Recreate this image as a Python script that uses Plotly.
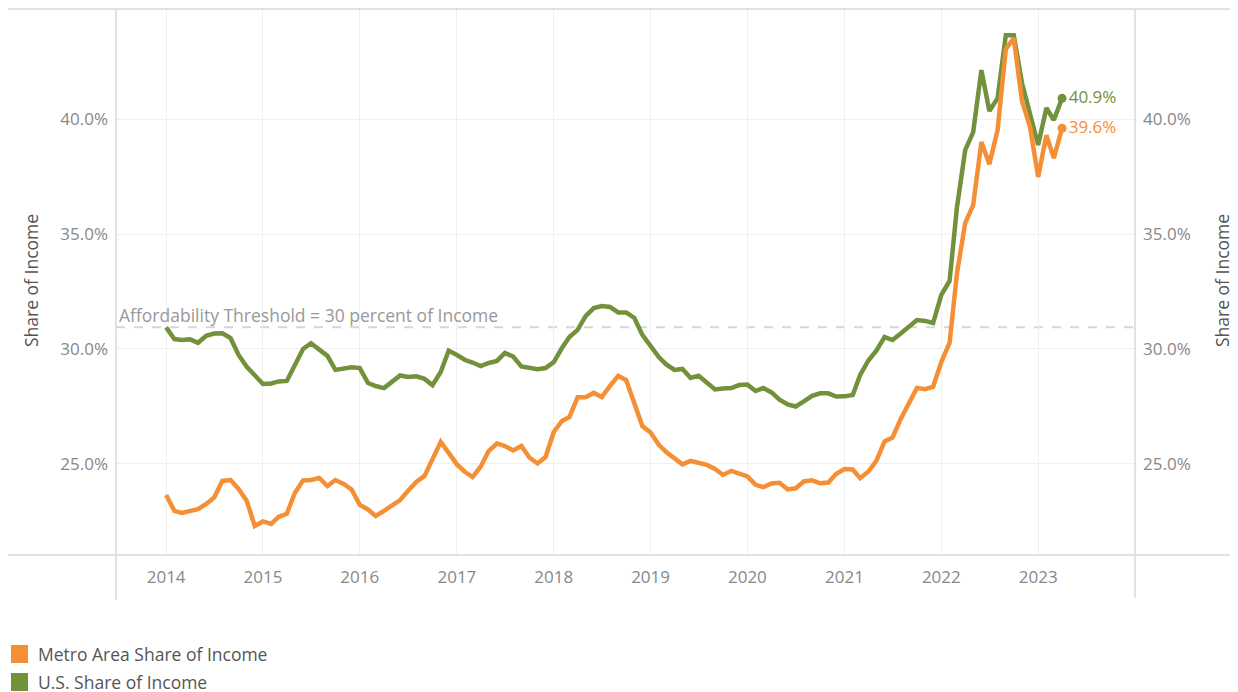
import plotly.graph_objects as go
import pandas as pd

# Monthly data, Jan 2014 - Apr 2023
dates = pd.date_range("2014-01-01", periods=112, freq="MS")

us_share = [
    30.94, 30.43, 30.39, 30.42, 30.27, 30.57, 30.67, 30.68, 30.47, 29.74, 29.22, 28.83,
    28.48, 28.50, 28.59, 28.61, 29.30, 30.00, 30.25, 30.00, 29.70, 29.09, 29.16, 29.20,
    29.17, 28.52, 28.39, 28.30, 28.57, 28.85, 28.78, 28.81, 28.70, 28.43, 29.00, 29.93,
    29.74, 29.52, 29.41, 29.26, 29.39, 29.48, 29.83, 29.67, 29.24, 29.16, 29.12, 29.17,
    29.43, 30.04, 30.52, 30.83, 31.43, 31.78, 31.87, 31.83, 31.59, 31.59, 31.35, 30.61,
    30.09, 29.65, 29.33, 29.09, 29.13, 28.74, 28.84, 28.52, 28.24, 28.28, 28.30, 28.43,
    28.45, 28.17, 28.30, 28.11, 27.80, 27.59, 27.50, 27.72, 27.96, 28.07, 28.07, 27.93,
    27.94, 28.00, 28.87, 29.50, 29.93, 30.52, 30.39, 30.67, 30.98, 31.26, 31.22, 31.13,
    32.35, 32.96, 36.17, 38.65, 39.43, 42.13, 40.35, 40.91, 43.65, 43.65, 41.57, 40.30,
    38.87, 40.48, 39.96, 40.90,
]

metro_share = [
    23.65, 22.96, 22.87, 22.97, 23.03, 23.26, 23.54, 24.26, 24.30, 23.91, 23.39, 22.30,
    22.50, 22.39, 22.70, 22.83, 23.74, 24.28, 24.30, 24.39, 24.04, 24.30, 24.13, 23.89,
    23.22, 23.02, 22.74, 22.96, 23.20, 23.43, 23.83, 24.22, 24.48, 25.17, 25.96, 25.48,
    24.98, 24.65, 24.43, 24.89, 25.57, 25.89, 25.78, 25.59, 25.78, 25.28, 25.02, 25.30,
    26.39, 26.87, 27.04, 27.90, 27.90, 28.09, 27.91, 28.39, 28.83, 28.65, 27.65, 26.65,
    26.37, 25.83, 25.52, 25.26, 24.98, 25.13, 25.04, 24.96, 24.78, 24.52, 24.70, 24.57,
    24.46, 24.09, 23.99, 24.15, 24.18, 23.89, 23.94, 24.24, 24.29, 24.16, 24.19, 24.57,
    24.78, 24.76, 24.38, 24.67, 25.13, 25.98, 26.15, 26.96, 27.61, 28.30, 28.25, 28.36,
    29.43, 30.26, 33.30, 35.48, 36.26, 39.00, 38.04, 39.52, 43.04, 43.52, 40.78, 39.67,
    37.48, 39.30, 38.30, 39.60,
]

threshold = 30.95
year_ticks = [f"{y}-01-01" for y in range(2014, 2024)]
year_labels = [str(y) for y in range(2014, 2024)]
y_ticks = [25, 30, 35, 40]
y_labels = ["25.0%", "30.0%", "35.0%", "40.0%"]

ORANGE = "#F58F35"
GREEN = "#72913B"
GRID = "#F0F0F0"
AXIS = "#D9D9D9"
TICK = "#888888"
TEXT = "#555555"
FONT = "Open Sans"

# page has an 8px body margin: figure pixel = page pixel - 8
W, H = 1230, 684
PL, PR, PT, PB = 108, 1127, 0, 547  # plot area in figure pixels

fig = go.Figure()

fig.add_trace(go.Scatter(x=dates, y=us_share, mode="lines", name="U.S. Share of Income",
                         line=dict(color=GREEN, width=4.5), hoverinfo="skip"))
fig.add_trace(go.Scatter(x=dates, y=metro_share, mode="lines", name="Metro Area Share of Income",
                         line=dict(color=ORANGE, width=4.5), hoverinfo="skip"))
fig.add_trace(go.Scatter(x=[dates[-1]], y=[us_share[-1]], mode="markers+text",
                         marker=dict(color=GREEN, size=9),
                         text=[f"{us_share[-1]:.1f}%"], textposition="middle right",
                         textfont=dict(color=GREEN, size=17, family=FONT), hoverinfo="skip"))
fig.add_trace(go.Scatter(x=[dates[-1]], y=[metro_share[-1]], mode="markers+text",
                         marker=dict(color=ORANGE, size=9),
                         text=[f"{metro_share[-1]:.1f}%"], textposition="middle right",
                         textfont=dict(color=ORANGE, size=17, family=FONT), hoverinfo="skip"))
fig.add_trace(go.Scatter(x=dates, y=us_share, yaxis="y2", mode="lines",
                         line=dict(color="rgba(0,0,0,0)", width=0), hoverinfo="skip"))

yr = [21.04, 44.83]
fig.update_layout(
    width=W, height=H,
    margin=dict(l=PL, r=W - PR, t=PT, b=H - PB),
    paper_bgcolor="white", plot_bgcolor="white",
    showlegend=False,
    font=dict(family=FONT, color=TICK, size=17),
    xaxis=dict(
        type="date", range=["2013-06-26", "2024-01-01"],
        tickvals=year_ticks, ticktext=year_labels,
        showgrid=True, gridcolor=GRID, gridwidth=1,
        showline=False, zeroline=False, ticks="",
        tickfont=dict(size=17, color=TICK, family=FONT),
        ticklabelstandoff=10,
    ),
    yaxis=dict(
        range=yr, tickvals=y_ticks, ticktext=y_labels,
        showgrid=True, gridcolor=GRID, gridwidth=1,
        showline=False, zeroline=False, ticks="",
        tickfont=dict(size=17, color=TICK, family=FONT),
        ticklabelstandoff=7,
    ),
    yaxis2=dict(
        range=yr, tickvals=y_ticks, ticktext=y_labels,
        overlaying="y", side="right", showgrid=False,
        showline=False, zeroline=False, ticks="",
        tickfont=dict(size=17, color=TICK, family=FONT),
        ticklabelstandoff=7,
    ),
)

def px_x(p):  # page pixel -> paper
    return (p - 8 - PL) / (PR - PL)

def px_y(p):
    return (PB - (p - 8)) / (PB - PT)

shapes = [
    dict(type="line", xref="paper", yref="y", x0=0, x1=1, y0=threshold, y1=threshold,
         line=dict(color="#D6D6D6", width=2, dash="dash"), layer="below"),
    dict(type="line", xref="paper", yref="paper", x0=px_x(8), x1=px_x(1238), y0=px_y(9), y1=px_y(9),
         line=dict(color=AXIS, width=1.5)),
    dict(type="line", xref="paper", yref="paper", x0=px_x(8), x1=px_x(1238), y0=0, y1=0,
         line=dict(color=AXIS, width=1.5)),
    dict(type="line", xref="paper", yref="paper", x0=0, x1=0, y0=px_y(600), y1=px_y(9),
         line=dict(color=AXIS, width=1.5)),
    dict(type="line", xref="paper", yref="paper", x0=1, x1=1, y0=px_y(598), y1=px_y(9),
         line=dict(color=AXIS, width=1.5)),
    dict(type="rect", xref="paper", yref="paper", x0=px_x(11), x1=px_x(28),
         y0=px_y(663), y1=px_y(645), fillcolor=ORANGE, line=dict(width=0)),
    dict(type="rect", xref="paper", yref="paper", x0=px_x(11), x1=px_x(28),
         y0=px_y(691), y1=px_y(673), fillcolor=GREEN, line=dict(width=0)),
]
fig.update_layout(shapes=shapes)

annotations = [
    dict(text="Affordability Threshold = 30 percent of Income", xref="paper", yref="paper",
         x=px_x(117), y=px_y(315), xanchor="left", yanchor="middle", showarrow=False,
         font=dict(size=17.5, color="#999999", family=FONT)),
    dict(text="Share of Income", xref="paper", yref="paper", x=px_x(31), y=px_y(281),
         xanchor="center", yanchor="middle", textangle=-90, showarrow=False,
         font=dict(size=17.5, color=TEXT, family=FONT)),
    dict(text="Share of Income", xref="paper", yref="paper", x=px_x(1222), y=px_y(281),
         xanchor="center", yanchor="middle", textangle=-90, showarrow=False,
         font=dict(size=17.5, color=TEXT, family=FONT)),
    dict(text="Metro Area Share of Income", xref="paper", yref="paper", x=px_x(36), y=px_y(654),
         xanchor="left", yanchor="middle", showarrow=False,
         font=dict(size=17.5, color=TEXT, family=FONT)),
    dict(text="U.S. Share of Income", xref="paper", yref="paper", x=px_x(36), y=px_y(682),
         xanchor="left", yanchor="middle", showarrow=False,
         font=dict(size=17.5, color=TEXT, family=FONT)),
]
fig.update_layout(annotations=annotations)

fig.write_html("out.html")
